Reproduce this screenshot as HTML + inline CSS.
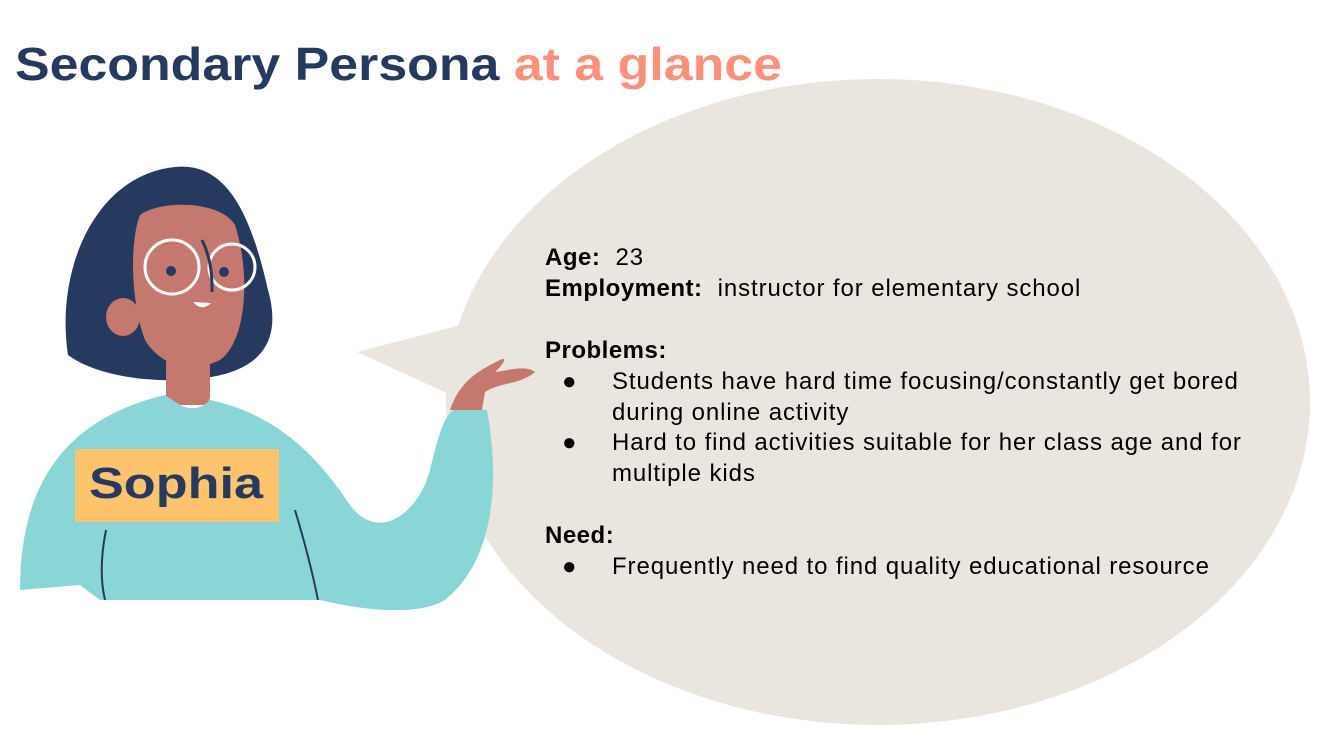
<!DOCTYPE html>
<html><head><meta charset="utf-8"><style>
html,body{margin:0;padding:0;background:#fff;}
body{width:1328px;height:734px;overflow:hidden;position:relative;font-family:"Liberation Sans",sans-serif;}
.t{position:absolute;font-size:24px;letter-spacing:0.9px;color:#000;white-space:nowrap;line-height:31px;}
b{font-weight:bold;letter-spacing:0.5px;}
</style></head><body>
<svg width="1328" height="734" style="position:absolute;left:0;top:0">
<text x="15" y="80" font-family="Liberation Sans" font-weight="bold" font-size="46" textLength="767" lengthAdjust="spacingAndGlyphs"><tspan fill="#253a5e">Secondary Persona </tspan><tspan fill="#fa917b">at a glance</tspan></text>
<ellipse cx="878" cy="402" rx="432" ry="323" fill="#eae6df"/>
<polygon points="357,352 480,320 462,400" fill="#eae6df"/>
<path d="M68,355 C55,270 95,175 175,167 C225,162 250,210 268,290 C285,350 250,372 205,378 C150,385 95,375 68,355 Z" fill="#253a5e"/>
<path d="M140,215 C160,200 220,200 235,225 C250,270 248,340 220,360 C190,375 160,365 145,340 C130,300 130,240 140,215 Z" fill="#c57870"/>
<ellipse cx="123" cy="317" rx="17" ry="19" fill="#c57870"/>
<rect x="166" y="355" width="44" height="50" rx="8" fill="#c57870"/>
<path d="M20,590 C20,490 60,420 165,395 L180,405 C190,410 200,410 210,400 C280,415 320,460 350,505 C380,545 420,510 430,470 C440,430 445,410 460,408 L487,410 C500,480 495,560 445,600 C420,615 370,612 320,600 L100,600 L80,585 Z" fill="#8ad5d6"/>
<path d="M450,410 C460,380 480,370 500,360 C510,355 500,368 495,372 C510,370 525,365 535,372 C520,385 500,382 485,392 L482,410 Z" fill="#c57870"/>
<circle cx="172" cy="267" r="27" fill="none" stroke="#fff" stroke-width="3"/>
<circle cx="232" cy="267" r="23" fill="none" stroke="#fff" stroke-width="3"/>
<circle cx="171" cy="271" r="5" fill="#253a5e"/><circle cx="224" cy="272" r="5" fill="#253a5e"/>
<path d="M193,302 Q202,312 211,303 Z" fill="#fff"/>
<path d="M202,240 Q213,262 212,292" fill="none" stroke="#253a5e" stroke-width="3"/>
<path d="M106,530 Q98,570 105,600 M295,510 Q310,560 318,600" fill="none" stroke="#253a5e" stroke-width="2"/>
<rect x="75" y="449" width="204" height="73" fill="#fdc46d"/>
<text x="89" y="498" font-family="Liberation Sans" font-weight="bold" font-size="44" fill="#253a5e" textLength="174" lengthAdjust="spacingAndGlyphs">Sophia</text>
</svg>
<div class="t" style="left:545px;top:242px"><b>Age:</b>&nbsp; 23</div>
<div class="t" style="left:545px;top:273px"><b>Employment:</b>&nbsp; instructor for elementary school</div>
<div class="t" style="left:545px;top:335px"><b>Problems:</b></div>
<div class="t" style="left:562px;top:366px">●</div>
<div class="t" style="left:612px;top:366px">Students have hard time focusing/constantly get bored<br>during online activity</div>
<div class="t" style="left:562px;top:427px">●</div>
<div class="t" style="left:612px;top:427px">Hard to find activities suitable for her class age and for<br>multiple kids</div>
<div class="t" style="left:545px;top:520px"><b>Need:</b></div>
<div class="t" style="left:562px;top:551px">●</div>
<div class="t" style="left:612px;top:551px">Frequently need to find quality educational resource</div>
</body></html>
